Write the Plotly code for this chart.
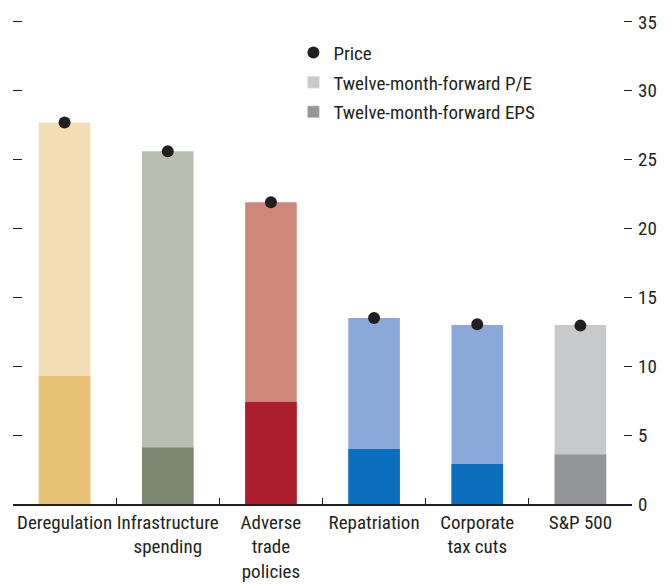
import plotly.graph_objects as go

categories = ['Deregulation', 'Infrastructure<br>spending', 'Adverse<br>trade<br>policies',
              'Repatriation', 'Corporate<br>tax cuts', 'S&P 500']
pe_values = [27.7, 25.6, 21.9, 13.5, 13.0, 13.0]
eps_values = [9.3, 4.1, 7.4, 4.0, 2.9, 3.6]
price_values = [27.7, 25.6, 21.9, 13.5, 13.05, 12.95]
y_ticks = [0, 5, 10, 15, 20, 25, 30, 35]

# light (P/E) and dark (EPS) shade for each category
light_colors = ['#f2ddb4', '#b9bfb0', '#cf877a', '#8aa9d8', '#8aa9d8', '#c8c9cb']
dark_colors = ['#e8c275', '#7c8670', '#ac1e2d', '#0a6ebd', '#0a6ebd', '#939598']

font_family = 'Liberation Sans Narrow, Roboto Condensed, DejaVu Sans Condensed, sans-serif'
ink = '#231f20'

fig = go.Figure()

# Full-height bars (P/E)
fig.add_trace(go.Bar(
    x=categories, y=pe_values, width=0.5,
    marker=dict(color=light_colors, line=dict(width=0)),
    showlegend=False, hoverinfo='skip'
))

# EPS part drawn over the bottom of each bar
fig.add_trace(go.Bar(
    x=categories, y=eps_values, width=0.5,
    marker=dict(color=dark_colors, line=dict(width=0)),
    showlegend=False, hoverinfo='skip'
))

# Price dots
fig.add_trace(go.Scatter(
    x=categories, y=price_values, mode='markers',
    marker=dict(color=ink, size=12),
    name='Price', legendgroup='a'
))

# Legend-only entries in neutral grey
fig.add_trace(go.Bar(x=[categories[0]], y=[None], name='Twelve-month-forward P/E',
                     marker_color='#c8c9cb', legendgroup='b'))
fig.add_trace(go.Bar(x=[categories[0]], y=[None], name='Twelve-month-forward EPS',
                     marker_color='#939598', legendgroup='c'))

# invisible trace on the right-hand labelled axis
fig.add_trace(go.Scatter(x=[categories[0]], y=[None], yaxis='y2',
                         showlegend=False, hoverinfo='skip'))

# page body adds an 8px offset, so the figure is sized a bit smaller;
# range goes a little past 35 so the top inside tick is not dropped
fig.update_layout(
    width=664, height=576,
    barmode='overlay',
    plot_bgcolor='white', paper_bgcolor='white',
    margin=dict(l=5, r=40, t=7, b=80),
    font=dict(family=font_family, size=19, color=ink),
    legend=dict(
        x=0.453, y=0.962, xanchor='left', yanchor='top',
        bgcolor='rgba(0,0,0,0)', tracegroupgap=2,
        font=dict(size=19), traceorder='grouped'
    ),
    xaxis=dict(
        type='category', range=[-0.5, 5.5], tickangle=0, automargin=False,
        showline=True, linecolor=ink, linewidth=1.5,
        ticks='inside', tickson='boundaries', ticklen=6, tickcolor=ink, tickwidth=1.2,
        showgrid=False, tickfont=dict(size=19)
    ),
    yaxis=dict(
        side='left', range=[0, 35.5], tickvals=y_ticks,
        ticks='inside', ticklen=9, tickcolor=ink, tickwidth=1.2,
        showticklabels=False, automargin=False,
        showline=False, showgrid=False, zeroline=False
    ),
    yaxis2=dict(
        overlaying='y', side='right', range=[0, 35.5], tickvals=y_ticks,
        ticks='inside', ticklen=8, tickcolor=ink, tickwidth=1.2,
        ticklabelstandoff=5,
        automargin=False, showline=False, showgrid=False, zeroline=False,
        tickfont=dict(size=19)
    )
)

fig.write_html('out.html')
